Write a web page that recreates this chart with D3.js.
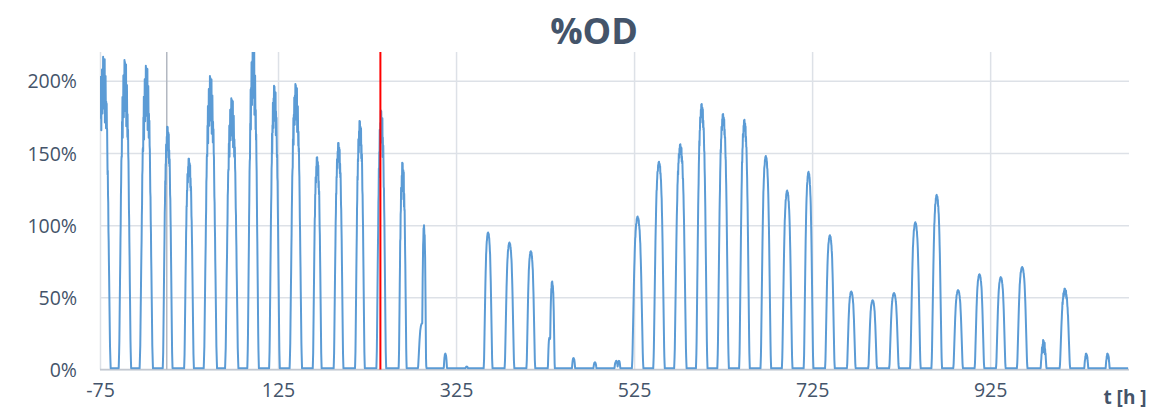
<!DOCTYPE html>
<html>
<head>
<meta charset="utf-8">
<script src="https://cdn.jsdelivr.net/npm/d3@7"></script>
<style>
  html, body { margin: 0; padding: 0; background: #ffffff; overflow: hidden; }
  text { font-family: "Open Sans", "Liberation Sans", sans-serif; }
</style>
</head>
<body>
<svg id="chart" width="1153" height="411"></svg>
<script>
// ---- data -------------------------------------------------------------
// One light pulse per day; the first peak is at t = -71 h, then every 24 h.
const firstPeakHour = -71;
const periodHours = 24;
// Peak %OD of each daily pulse
const pulsePeak = [
  215, 213, 209, 168, 146, 202, 187, 224, 196, 197,
  147, 157, 172, 179, 143, 100, 11, 2, 95, 88,
  82, 61, 8, 5, 6, 106, 144, 156, 184, 177,
  173, 148, 124, 137, 93, 54, 48, 53, 102, 121,
  55, 66, 64, 71, 20, 56, 11, 11
];
// Half width of each pulse at its base (hours)
const pulseHalfWidth = [
  8, 7, 7.5, 5.5, 5.5, 7.5, 7.5, 6.5, 6, 7,
  5, 5.5, 5.5, 5.5, 4.5, 2.5, 2, 2, 5, 5.5,
  5, 3, 2, 2, 2, 6.5, 6.5, 7, 6.5, 6.5,
  6, 6, 6, 5.5, 5.5, 5, 5, 5.5, 6, 6,
  5.5, 5.5, 5.5, 6, 3.5, 6, 2.5, 2.5
];
// How noisy each pulse top is (0 = smooth)
const pulseNoise = [
  1.2, 1.2, 1.2, 0.7, 0.6, 1.1, 1, 1.2, 0.9, 0.9,
  0.6, 0.6, 0.7, 0.9, 1, 0.5, 0.6, 0, 0.1, 0.1,
  0.1, 0.3, 0.4, 0.4, 0.4, 0.15, 0.15, 0.3, 0.35, 0.3,
  0.3, 0.1, 0.1, 0.1, 0.1, 0.1, 0.1, 0.1, 0.1, 0.15,
  0.1, 0.1, 0.1, 0.1, 3, 0.5, 2, 2
];
// Shoulders and side events on the pulse edges
const bumpTime      = [-76, -44, -43.2, 165.5, 287, 430, 504.5, 508];
const bumpPeak      = [205, 62, 34, 22, 32, 22, 5, 6];
const bumpHalfWidth = [8, 1.2, 1, 1.5, 5, 2, 1.8, 1.8];
// Normalised pulse profile (position within pulse -> fraction of peak)
const profileU = [-1, -0.9, -0.75, -0.6, -0.45, -0.3, -0.15, 0, 0.15, 0.3, 0.45, 0.6, 0.75, 0.9, 1];
const profileF = [0, 0.08, 0.36, 0.64, 0.84, 0.94, 0.99, 1, 0.99, 0.94, 0.84, 0.64, 0.36, 0.08, 0];
// Repeating sensor jitter pattern applied near pulse tops
const jitter = [0, -0.06, -0.13, -0.02, -0.09, 0.01, -0.16, -0.04, -0.11, 0, -0.07, -0.14, -0.03, -0.1, 0.01, -0.05];
const baseline = 0.8;
const tStart = -75, tEnd = 1080, tStep = 0.25;

const xTicks = [-75, 125, 325, 525, 725, 925];
const yTicks = [0, 50, 100, 150, 200];
const markerGrayHour = 0;
const markerRedHour = 240;

// ---- build series -----------------------------------------------------
const profile = d3.scaleLinear().domain(profileU).range(profileF).clamp(true);
const series = [];
let idx = 0;
for (let t = tStart; t <= tEnd + 1e-9; t += tStep, idx++) {
  let v = baseline;
  const j = jitter[idx % jitter.length];
  pulsePeak.forEach((p, k) => {
    const tc = firstPeakHour + periodHours * k;
    const hw = pulseHalfWidth[k];
    const u = (t - tc) / hw;
    if (u > -1 && u < 1) {
      const f = profile(u);
      const val = p * f * (1 + pulseNoise[k] * j * Math.pow(f, 1.5));
      if (val > v) v = val;
    }
  });
  bumpTime.forEach((bt, b) => {
    const u = (t - bt) / bumpHalfWidth[b];
    if (u > -1 && u < 1) {
      const val = bumpPeak[b] * profile(u) * (b === 0 ? (1 + j) : 1);
      if (val > v) v = val;
    }
  });
  series.push({ t: t, v: v });
}

// ---- layout -----------------------------------------------------------
const plot = { left: 100, right: 1129, top: 52, bottom: 369.5 };
const x = d3.scaleLinear().domain([tStart, 1081]).range([plot.left, plot.right]);
const y = d3.scaleLinear().domain([0, 220]).range([plot.bottom, plot.top]);

const svg = d3.select("#chart");
const textColor = "#44546a";
const gridColor = "#dde1e7";

svg.append("defs").append("clipPath").attr("id", "plotClip")
  .append("rect")
  .attr("x", plot.left).attr("y", plot.top)
  .attr("width", plot.right - plot.left).attr("height", plot.bottom - plot.top);

// horizontal gridlines + labels
const yAxis = d3.axisLeft(y).tickValues(yTicks).tickFormat(d => d + "%")
  .tickSize(-(plot.right - plot.left)).tickPadding(23);
const gy = svg.append("g").attr("transform", `translate(${plot.left},0)`).call(yAxis);
gy.select(".domain").remove();
gy.selectAll(".tick line").attr("stroke", gridColor).attr("stroke-width", 1.5);
gy.selectAll(".tick text").attr("fill", textColor).attr("font-size", 19.5)
  .attr("dy", "0.36em");

// vertical gridlines + labels
const xAxis = d3.axisBottom(x).tickValues(xTicks).tickFormat(d => String(d))
  .tickSize(-(plot.bottom - plot.top)).tickPadding(14);
const gx = svg.append("g").attr("transform", `translate(0,${plot.bottom})`).call(xAxis);
gx.select(".domain").remove();
gx.selectAll(".tick line").attr("stroke", gridColor).attr("stroke-width", 1.5);
gx.selectAll(".tick text").attr("fill", textColor).attr("font-size", 19.5);

// zero axis line
svg.append("line")
  .attr("x1", plot.left).attr("x2", plot.right)
  .attr("y1", y(0)).attr("y2", y(0))
  .attr("stroke", "#c3c8d0").attr("stroke-width", 1.5);

// marker at t = 0
svg.append("line")
  .attr("x1", x(markerGrayHour)).attr("x2", x(markerGrayHour))
  .attr("y1", plot.top).attr("y2", plot.bottom)
  .attr("stroke", "#b3b8c1").attr("stroke-width", 1.5);

// %OD series
const line = d3.line().x(d => x(d.t)).y(d => y(d.v));
svg.append("path")
  .datum(series)
  .attr("clip-path", "url(#plotClip)")
  .attr("fill", "none")
  .attr("stroke", "#5b9bd5")
  .attr("stroke-width", 2)
  .attr("stroke-linejoin", "round")
  .attr("d", line);

// red event marker
svg.append("line")
  .attr("x1", x(markerRedHour)).attr("x2", x(markerRedHour))
  .attr("y1", plot.top).attr("y2", plot.bottom)
  .attr("stroke", "#ff0000").attr("stroke-width", 2);

// title
svg.append("text")
  .attr("x", 594).attr("y", 44)
  .attr("text-anchor", "middle")
  .attr("font-size", 36).attr("font-weight", "bold")
  .attr("fill", textColor)
  .text("%OD");

// axis title
svg.append("text")
  .attr("x", 1125).attr("y", 404)
  .attr("text-anchor", "middle")
  .attr("font-size", 19).attr("font-weight", "bold")
  .attr("fill", textColor)
  .text("t [h ]");
</script>
</body>
</html>
